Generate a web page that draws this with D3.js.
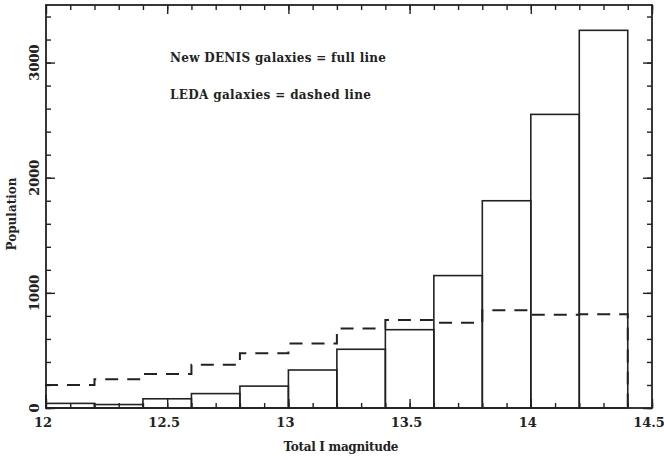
<!DOCTYPE html>
<html>
<head>
<meta charset="utf-8">
<script src="https://cdn.jsdelivr.net/npm/d3@7"></script>
<style>
  body { margin: 0; background: #fff; }
  svg text { font-family: "DejaVu Serif", serif; font-weight: bold; fill: #222; }
</style>
</head>
<body>
<svg id="chart" width="664" height="460"></svg>
<script>
// bin left edges (width 0.2 mag)
const binStarts = [12.0, 12.2, 12.4, 12.6, 12.8, 13.0, 13.2, 13.4, 13.6, 13.8, 14.0, 14.2];
const binWidth = 0.2;
// New DENIS galaxies (full line)
const denisCounts = [40, 30, 80, 125, 190, 330, 510, 680, 1150, 1800, 2550, 3280];
// LEDA galaxies (dashed line)
const ledaCounts = [200, 250, 295, 375, 475, 560, 690, 765, 740, 850, 810, 815];

const xMajor = [12, 12.5, 13, 13.5, 14, 14.5];
const xMajorLabels = ["12", "12.5", "13", "13.5", "14", "14.5"];
const yMajor = [0, 1000, 2000, 3000];
const legendLines = ["New DENIS galaxies = full line", "LEDA galaxies = dashed line"];

const svg = d3.select("#chart");
const m = { left: 46, right: 652, top: 5, bottom: 408 };
const ink = "#222";

const x = d3.scaleLinear().domain([12, 14.5]).range([m.left, m.right]);
const y = d3.scaleLinear().domain([0, 3500]).range([m.bottom, m.top]);

// solid histogram (bars)
svg.append("g")
  .selectAll("rect")
  .data(binStarts)
  .join("rect")
  .attr("x", d => x(d))
  .attr("width", d => x(d + binWidth) - x(d))
  .attr("y", (d, i) => y(denisCounts[i]))
  .attr("height", (d, i) => y(0) - y(denisCounts[i]))
  .attr("fill", "none")
  .attr("stroke", ink)
  .attr("stroke-width", 1.6);

// dashed step line
const steps = [[binStarts[0], 0]];
binStarts.forEach((b, i) => {
  steps.push([b, ledaCounts[i]]);
  steps.push([b + binWidth, ledaCounts[i]]);
});
steps.push([binStarts[binStarts.length - 1] + binWidth, 0]);
svg.append("path")
  .attr("d", d3.line().x(d => x(d[0])).y(d => y(d[1]))(steps))
  .attr("fill", "none")
  .attr("stroke", ink)
  .attr("stroke-width", 2)
  .attr("stroke-dasharray", "13,9");

// frame
svg.append("rect")
  .attr("x", m.left).attr("y", m.top)
  .attr("width", m.right - m.left).attr("height", m.bottom - m.top)
  .attr("fill", "none").attr("stroke", ink).attr("stroke-width", 1.8);

// ticks (inward on all four sides)
const xMinor = d3.range(121, 146).map(d => d / 10);
const yMinor = d3.range(0, 3501, 200);
function tickAxis(axisFn, scale, values, size, transform) {
  svg.append("g")
    .attr("transform", transform)
    .call(axisFn(scale).tickValues(values).tickSize(size).tickFormat(""))
    .call(g => g.select(".domain").remove())
    .call(g => g.selectAll("line").attr("stroke", ink).attr("stroke-width", 1.4));
}
tickAxis(d3.axisBottom, x, xMinor, -5, `translate(0,${m.bottom})`);
tickAxis(d3.axisBottom, x, xMajor, -9, `translate(0,${m.bottom})`);
tickAxis(d3.axisTop, x, xMinor, -5, `translate(0,${m.top})`);
tickAxis(d3.axisTop, x, xMajor, -9, `translate(0,${m.top})`);
tickAxis(d3.axisLeft, y, yMinor, -5, `translate(${m.left},0)`);
tickAxis(d3.axisLeft, y, yMajor, -9, `translate(${m.left},0)`);
tickAxis(d3.axisRight, y, yMinor, -5, `translate(${m.right},0)`);
tickAxis(d3.axisRight, y, yMajor, -9, `translate(${m.right},0)`);

// x tick labels
svg.append("g")
  .selectAll("text")
  .data(xMajor)
  .join("text")
  .attr("x", d => x(d) - 3)
  .attr("y", 427)
  .attr("text-anchor", "middle")
  .attr("font-size", 13)
  .text((d, i) => xMajorLabels[i]);

// y tick labels (rotated)
svg.append("g")
  .selectAll("text")
  .data(yMajor)
  .join("text")
  .attr("transform", d => `translate(39,${y(d)}) rotate(-90)`)
  .attr("text-anchor", "middle")
  .attr("font-size", 13)
  .text(d => d);

// axis titles
svg.append("text")
  .attr("x", 341).attr("y", 451)
  .attr("text-anchor", "middle")
  .attr("font-size", 12)
  .attr("textLength", 115)
  .text("Total I magnitude");
svg.append("text")
  .attr("transform", "translate(16,214) rotate(-90)")
  .attr("text-anchor", "middle")
  .attr("font-size", 12)
  .text("Population");

// legend text
const legendWidths = [216, 201];
svg.append("g")
  .selectAll("text")
  .data(legendLines)
  .join("text")
  .attr("x", 170)
  .attr("y", (d, i) => 62 + i * 37)
  .attr("font-size", 12)
  .attr("textLength", (d, i) => legendWidths[i])
  .attr("lengthAdjust", "spacing")
  .text(d => d);
</script>
</body>
</html>
